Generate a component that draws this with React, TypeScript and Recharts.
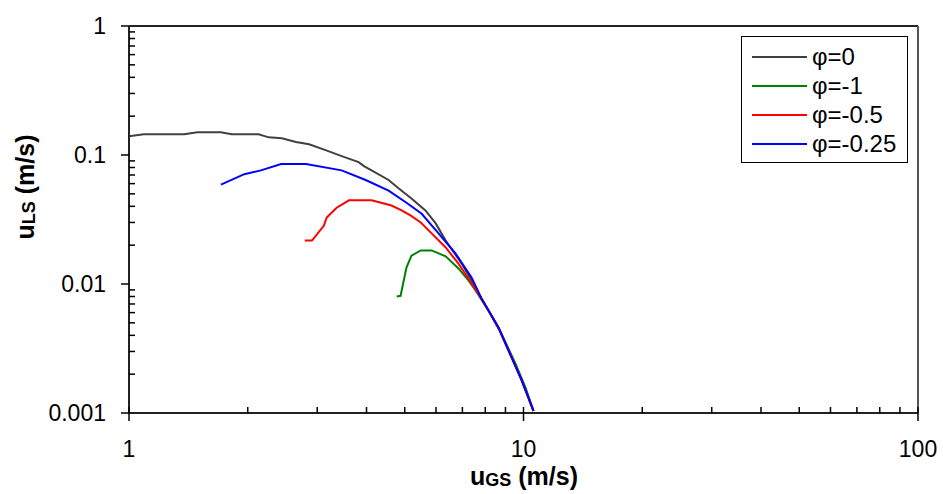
import React from 'react'
import { LineChart, Line, XAxis, YAxis, Legend, ReferenceLine } from 'recharts'

// [uGS, uLS] pairs, per phi value
const phi0: number[][] = [
  [1.0, 0.14], [1.09, 0.145], [1.38, 0.145], [1.49, 0.15], [1.71, 0.15], [1.82, 0.145],
  [2.13, 0.145], [2.26, 0.137], [2.44, 0.135], [2.65, 0.126], [2.86, 0.121], [3.15, 0.109],
  [3.46, 0.098], [3.82, 0.088], [3.94, 0.082], [4.12, 0.076], [4.55, 0.064], [4.83, 0.055],
  [5.2, 0.046], [5.65, 0.037], [5.99, 0.0295], [6.35, 0.0217], [6.97, 0.0144], [7.39, 0.0106],
  [7.83, 0.0077], [8.64, 0.0046], [9.33, 0.0027], [9.89, 0.0018], [10.6, 0.00104],
]
const phiM1: number[][] = [
  [4.77, 0.008], [4.88, 0.0081], [5.05, 0.0134], [5.2, 0.0166], [5.49, 0.0182], [5.85, 0.0182],
  [6.35, 0.0164], [6.84, 0.0132], [7.26, 0.0106], [7.56, 0.0089], [8.15, 0.0062], [8.8, 0.0041],
  [9.55, 0.0024], [10.12, 0.00157], [10.6, 0.00104],
]
const phiM05: number[][] = [
  [2.79, 0.0217], [2.91, 0.0217], [3.12, 0.0284], [3.17, 0.0328], [3.36, 0.039], [3.61, 0.0445],
  [4.12, 0.0445], [4.63, 0.0406], [4.91, 0.0372], [5.17, 0.034], [5.49, 0.03], [5.85, 0.0247],
  [6.35, 0.0192], [6.84, 0.0144], [7.39, 0.0101], [7.83, 0.0077], [8.64, 0.0046], [9.33, 0.0027],
  [9.89, 0.0018], [10.6, 0.00104],
]
const phiM025: number[][] = [
  [1.71, 0.059], [1.96, 0.071], [2.16, 0.076], [2.43, 0.085], [2.81, 0.085], [3.46, 0.076],
  [3.98, 0.064], [4.55, 0.053], [5.03, 0.043], [5.52, 0.035], [6.09, 0.0247], [6.73, 0.0172],
  [7.39, 0.0112], [7.83, 0.0077], [8.64, 0.0046], [9.33, 0.0027], [9.89, 0.0018], [10.6, 0.00104],
]

const xTicks = [1, 2, 3, 4, 5, 6, 7, 8, 9, 10, 20, 30, 40, 50, 60, 70, 80, 90, 100]
const xMajor = [1, 10, 100]
const yTicks = [
  0.001, 0.002, 0.003, 0.004, 0.005, 0.006, 0.007, 0.008, 0.009,
  0.01, 0.02, 0.03, 0.04, 0.05, 0.06, 0.07, 0.08, 0.09,
  0.1, 0.2, 0.3, 0.4, 0.5, 0.6, 0.7, 0.8, 0.9, 1,
]
const yMajor = [0.001, 0.01, 0.1, 1]

const series = [
  { name: 'φ=0', color: '#404040', points: phi0 },
  { name: 'φ=-1', color: '#008000', points: phiM1 },
  { name: 'φ=-0.5', color: '#ff0000', points: phiM05 },
  { name: 'φ=-0.25', color: '#0000ff', points: phiM025 },
]

const FONT = '"Liberation Sans", Arial, sans-serif'
const AXIS = '#222'

const renderXTick = (props: any) => {
  const { x, y, payload } = props
  const major = xMajor.includes(payload.value)
  return (
    <g key={`xt-${payload.value}`}>
      {major
        ? <line x1={x} x2={x} y1={y - 6} y2={y + 8} style={{ stroke: '#000', strokeWidth: 1.5 }} />
        : <line x1={x} x2={x} y1={y} y2={y - 6} style={{ stroke: '#000', strokeWidth: 1.5 }} />}
      {major && (
        <text x={x} y={y + 36} dy="0.35em" textAnchor="middle" fontSize={23} fontFamily={FONT} fill="#000">
          {payload.value}
        </text>
      )}
    </g>
  )
}

const renderYTick = (props: any) => {
  const { x, y, payload } = props
  const major = yMajor.includes(payload.value)
  return (
    <g key={`yt-${payload.value}`}>
      {major
        ? <line x1={x - 8} x2={x} y1={y} y2={y} style={{ stroke: '#000', strokeWidth: 1.5 }} />
        : <line x1={x} x2={x + 6} y1={y} y2={y} style={{ stroke: '#000', strokeWidth: 1.5 }} />}
      {major && (
        <text x={x - 23} y={y} dy="0.35em" textAnchor="end" fontSize={23} fontFamily={FONT} fill="#000">
          {String(payload.value)}
        </text>
      )}
    </g>
  )
}

const LegendBox = () => (
  <div style={{ border: '1px solid #000', background: '#fff', width: 165, height: 120, paddingTop: 5 }}>
    {series.map((s) => (
      <div key={s.name} style={{ display: 'flex', alignItems: 'center', height: 29, marginLeft: 10 }}>
        <div style={{ width: 55, height: 2, background: s.color }} />
        <span style={{ marginLeft: 5, fontSize: 24, fontFamily: FONT, color: '#000', lineHeight: '29px' }}>{s.name}</span>
      </div>
    ))}
  </div>
)

export default function App() {
  return (
    <div style={{ position: 'absolute', left: 0, top: 0, background: '#fff' }}>
      <LineChart width={943} height={494} margin={{ top: 26, right: 25, bottom: 0, left: 0 }}>
        <XAxis
          dataKey="x"
          type="number"
          scale="log"
          domain={[1, 100]}
          ticks={xTicks}
          interval={0}
          allowDataOverflow
          height={81}
          tickSize={0}
          tickMargin={0}
          tickLine={false}
          tick={renderXTick}
          axisLine={{ stroke: AXIS, strokeWidth: 2 }}
          label={{
            content: () => (
              <text x={524} y={476} dy="0.35em" textAnchor="middle" fontFamily={FONT} fontWeight="bold" fontSize={25} fill="#000">
                u<tspan fontSize={18} dy={1}>GS</tspan><tspan dy={-1}> (m/s)</tspan>
              </text>
            ),
          }}
        />
        <YAxis
          dataKey="y"
          type="number"
          scale="log"
          domain={[0.001, 1]}
          ticks={yTicks}
          interval={0}
          allowDataOverflow
          width={129}
          tickSize={0}
          tickMargin={0}
          tickLine={false}
          tick={renderYTick}
          axisLine={{ stroke: AXIS, strokeWidth: 2 }}
          label={{
            content: () => (
              <text
                x={25}
                y={187}
                dy="0.35em"
                textAnchor="middle"
                transform="rotate(-90 25 187)"
                fontFamily={FONT}
                fontWeight="bold"
                fontSize={25}
                fill="#000"
              >
                u<tspan fontSize={18} dy={1}>LS</tspan><tspan dy={-1}> (m/s)</tspan>
              </text>
            ),
          }}
        />
        <ReferenceLine y={1} stroke={AXIS} strokeWidth={2} />
        <ReferenceLine x={100} stroke="#555" strokeWidth={2} />
        {series.map((s) => (
          <Line
            key={s.name}
            name={s.name}
            data={s.points.map(([x, y]) => ({ x, y }))}
            dataKey="y"
            type="linear"
            stroke={s.color}
            strokeWidth={2}
            dot={false}
            activeDot={false}
            isAnimationActive={false}
          />
        ))}
        <Legend
          layout="vertical"
          align="center"
          verticalAlign="middle"
          content={<LegendBox />}
          wrapperStyle={{ position: 'absolute', top: 36, left: 741, width: 167, height: 127 }}
        />
      </LineChart>
    </div>
  )
}
